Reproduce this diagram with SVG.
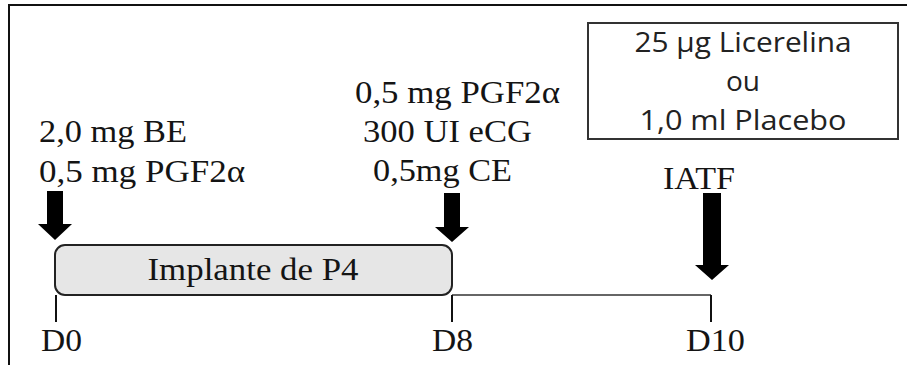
<svg xmlns="http://www.w3.org/2000/svg" width="907" height="365" viewBox="0 0 907 365">
<style>
.s{font-family:"Liberation Serif","Times New Roman",serif;font-size:31px;fill:#141414}
.c{font-family:"Open Sans","Liberation Sans",sans-serif;font-size:28px;fill:#222;text-anchor:middle}
.arr{fill:#000}
.frame{fill:none;stroke:#111;stroke-width:2}
</style>
<rect width="907" height="365" fill="#fff"/>
<path class="frame" d="M9,365 V5 H907"/>

<g id="box-treatment">
<rect x="588" y="23" width="310" height="116" fill="#fff" stroke="#333" stroke-width="2"/>
<text class="c" x="743" y="52" textLength="217" lengthAdjust="spacingAndGlyphs">25 µg Licerelina</text>
<text class="c" x="743" y="91">ou</text>
<text class="c" x="743" y="130" textLength="207" lengthAdjust="spacingAndGlyphs">1,0 ml Placebo</text>
</g>

<g id="label-d0">
<text class="s" x="39" y="142" textLength="148" lengthAdjust="spacingAndGlyphs">2,0 mg BE</text>
<text class="s" x="39" y="182" textLength="206" lengthAdjust="spacingAndGlyphs">0,5 mg PGF2α</text>
</g>

<g id="label-d8">
<text class="s" x="355" y="103" textLength="205" lengthAdjust="spacingAndGlyphs">0,5 mg PGF2α</text>
<text class="s" x="363" y="142" textLength="169" lengthAdjust="spacingAndGlyphs">300 UI eCG</text>
<text class="s" x="373" y="181" textLength="139" lengthAdjust="spacingAndGlyphs">0,5mg CE</text>
</g>

<g id="label-iatf">
<text class="s" x="663" y="189" textLength="72" lengthAdjust="spacingAndGlyphs">IATF</text>
</g>

<g id="implant">
<rect x="55" y="245" width="397" height="50" rx="10" ry="10" fill="#e6e6e6" stroke="#222" stroke-width="2"/>
<text class="s" x="253" y="280" text-anchor="middle" textLength="211" lengthAdjust="spacingAndGlyphs">Implante de P4</text>
</g>

<g id="connectors">
<line x1="452" y1="295" x2="711" y2="295" stroke="#666" stroke-width="2"/>
<line x1="56" y1="295" x2="56" y2="322" stroke="#111" stroke-width="2"/>
<line x1="452" y1="295" x2="452" y2="322" stroke="#111" stroke-width="2"/>
<line x1="711" y1="295" x2="711" y2="322" stroke="#111" stroke-width="2"/>
<polygon class="arr" points="47,191 63,191 63,224 72,224 55,240 38,224 47,224"/>
<polygon class="arr" points="444,193 460,193 460,227 469,227 452,242 435,227 444,227"/>
<polygon class="arr" points="703,193 721,193 721,265 729,265 712,280 695,265 703,265"/>
</g>

<g id="days">
<text class="s" x="41" y="351" textLength="41" lengthAdjust="spacingAndGlyphs">D0</text>
<text class="s" x="432" y="351" textLength="41" lengthAdjust="spacingAndGlyphs">D8</text>
<text class="s" x="686" y="351" textLength="59" lengthAdjust="spacingAndGlyphs">D10</text>
</g>
</svg>
